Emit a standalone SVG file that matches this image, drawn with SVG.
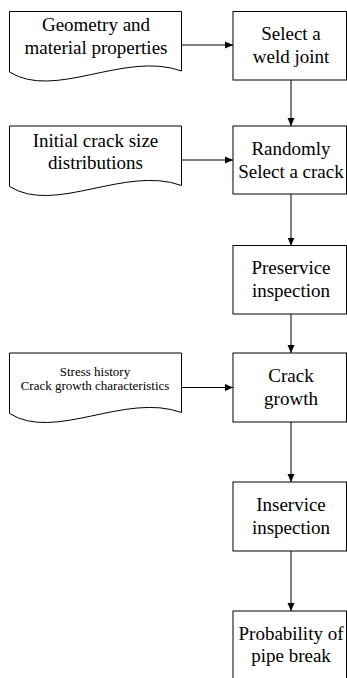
<svg xmlns="http://www.w3.org/2000/svg" width="347" height="678" viewBox="0 0 347 678" font-family="Liberation Serif, serif">
<style>
.shape{fill:#fff;stroke:#000;stroke-width:1}
.t{font-size:19px;fill:#000;text-anchor:middle}
.s{font-size:13px}
.c{stroke:#000;stroke-width:1;fill:none;marker-end:url(#ah)}
</style>
<defs>
<marker id="ah" markerUnits="userSpaceOnUse" markerWidth="9" markerHeight="8" refX="8" refY="4" orient="auto">
<path d="M0,0.5 L8,4 L0,7.5 Z" fill="#000"/>
</marker>
<path id="doc" d="M9.5,0 H181.5 V59.5 C125,39 55,89 9.5,60.5 Z"/>
</defs>
<rect width="347" height="678" fill="#fff"/>
<g id="connectors">
<line class="c" x1="182" y1="45" x2="233" y2="45"/>
<line class="c" x1="182" y1="160" x2="233" y2="160"/>
<line class="c" x1="182" y1="387.5" x2="233" y2="387.5"/>
<line class="c" x1="291" y1="80" x2="291" y2="126"/>
<line class="c" x1="291" y1="194" x2="291" y2="245.5"/>
<line class="c" x1="291" y1="314" x2="291" y2="353"/>
<line class="c" x1="291" y1="422" x2="291" y2="482"/>
<line class="c" x1="291" y1="551" x2="291" y2="611"/>
</g>
<g id="doc1">
<use href="#doc" class="shape" transform="translate(0,11.5)"/>
<text class="t" font-family="Liberation Serif, serif" x="96" y="30.5">Geometry and</text>
<text class="t" font-family="Liberation Serif, serif" x="96" y="53.5">material properties</text>
</g>
<g id="doc2">
<use href="#doc" class="shape" transform="translate(0,126)"/>
<text class="t" font-family="Liberation Serif, serif" x="95.5" y="146.5">Initial crack size</text>
<text class="t" font-family="Liberation Serif, serif" x="95.5" y="168.5">distributions</text>
</g>
<g id="doc3">
<use href="#doc" class="shape" transform="translate(0,353)"/>
<text class="t s" font-family="Liberation Serif, serif" x="95" y="375.5">Stress history</text>
<text class="t s" font-family="Liberation Serif, serif" x="95" y="390">Crack growth characteristics</text>
</g>
<g id="box1">
<rect class="shape" x="233" y="11.5" width="113.5" height="68.5"/>
<text class="t" font-family="Liberation Serif, serif" x="291" y="40">Select a</text>
<text class="t" font-family="Liberation Serif, serif" x="291" y="63">weld joint</text>
</g>
<g id="box2">
<rect class="shape" x="233" y="126" width="113.5" height="68"/>
<text class="t" font-family="Liberation Serif, serif" x="291" y="155">Randomly</text>
<text class="t" font-family="Liberation Serif, serif" x="291" y="178">Select a crack</text>
</g>
<g id="box3">
<rect class="shape" x="233" y="245.5" width="113.5" height="68.5"/>
<text class="t" font-family="Liberation Serif, serif" x="291" y="274">Preservice</text>
<text class="t" font-family="Liberation Serif, serif" x="291" y="296.5">inspection</text>
</g>
<g id="box4">
<rect class="shape" x="233" y="353" width="113.5" height="69"/>
<text class="t" font-family="Liberation Serif, serif" x="291" y="382">Crack</text>
<text class="t" font-family="Liberation Serif, serif" x="291" y="405">growth</text>
</g>
<g id="box5">
<rect class="shape" x="233" y="482" width="113.5" height="69"/>
<text class="t" font-family="Liberation Serif, serif" x="291" y="511">Inservice</text>
<text class="t" font-family="Liberation Serif, serif" x="291" y="533.5">inspection</text>
</g>
<g id="box6">
<rect class="shape" x="233" y="611" width="113.5" height="80"/>
<text class="t" font-family="Liberation Serif, serif" x="291" y="639.5">Probability of</text>
<text class="t" font-family="Liberation Serif, serif" x="291" y="662">pipe break</text>
</g>
</svg>
